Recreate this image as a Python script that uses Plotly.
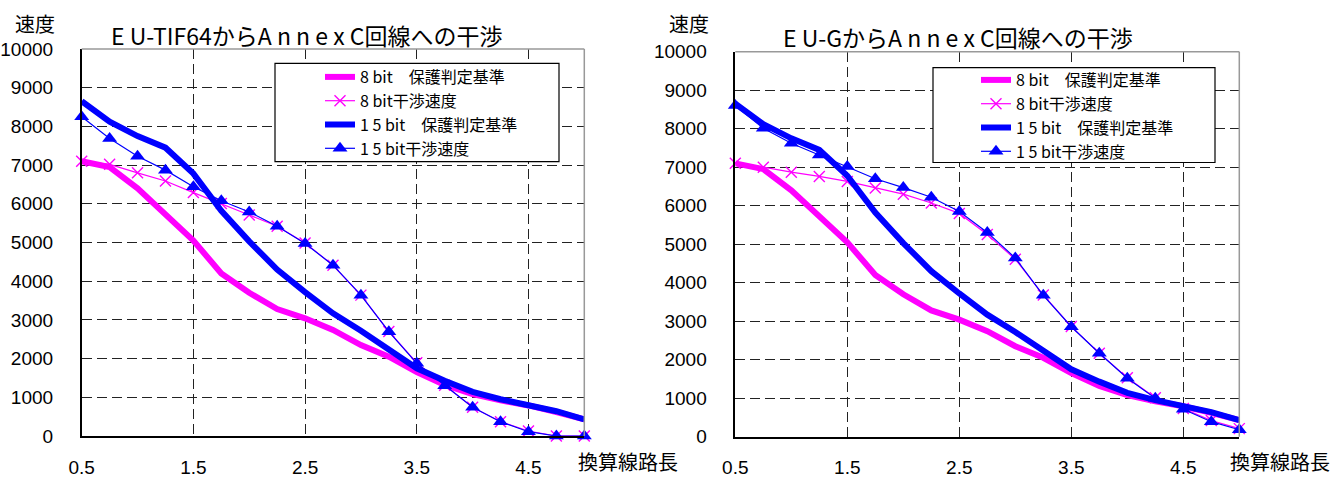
import plotly.graph_objects as go

# ---- data ----
line_len = [0.5, 0.75, 1.0, 1.25, 1.5, 1.75, 2.0, 2.25, 2.5, 2.75, 3.0,
            3.25, 3.5, 3.75, 4.0, 4.25, 4.5, 4.75, 5.0]

kijun_8bit = [7100, 6950, 6400, 5700, 5050, 4200, 3700, 3280, 3040, 2740, 2350,
              2050, 1650, 1320, 1080, 920, 790, 620, 430]
kijun_15bit = [8650, 8120, 7750, 7450, 6780, 5820, 5030, 4300, 3720, 3170, 2720,
               2250, 1750, 1430, 1140, 950, 800, 640, 430]

kansho_8bit_tif = [7100, 7020, 6800, 6590, 6290, 6010, 5710, 5420, 4990, 4410, 3640,
                   2700, 1890, 1310, 740, 370, 130, 0, 0]
kansho_15bit_tif = [8250, 7690, 7230, 6870, 6440, 6080, 5790, 5420, 4975, 4414, 3638,
                    2695, 1878, 1300, 741, 370, 111, 0, 0]

kansho_8bit_g = [7100, 7000, 6870, 6760, 6630, 6460, 6300, 6070, 5800, 5250, 4610,
                 3680, 2860, 2170, 1530, 1010, 730, 420, 210]
kansho_15bit_g = [8600, 8010, 7620, 7320, 7020, 6700, 6470, 6220, 5850, 5306, 4642,
                  3672, 2857, 2166, 1517, 997, 712, 390, 180]

titles = ["E U-TIF64からA n n e x C回線への干渉", "E U-GからA n n e x C回線への干渉"]
names = ["8 bit　保護判定基準", "8 bit干渉速度", "1 5 bit　保護判定基準", "1 5 bit干渉速度"]
x_ticks = [0.5, 1.5, 2.5, 3.5, 4.5]
y_ticks = [0, 1000, 2000, 3000, 4000, 5000, 6000, 7000, 8000, 9000, 10000]
x_label = "換算線路長"
y_label = "速度"

MAG = "#FF00FF"
BLU = "#0000FF"
CJK = "Noto Sans CJK JP"
LAT = "Liberation Sans"
W, H = 1333, 477

fig = go.Figure()

panels = [
    dict(xa="x", ya="y", lg="legend", k8=kansho_8bit_tif, k15=kansho_15bit_tif),
    dict(xa="x2", ya="y2", lg="legend2", k8=kansho_8bit_g, k15=kansho_15bit_g),
]
for p in panels:
    fig.add_trace(go.Scatter(x=line_len, y=kijun_8bit, name=names[0], mode="lines",
                             line=dict(color=MAG, width=6), xaxis=p["xa"], yaxis=p["ya"],
                             legend=p["lg"]))
    fig.add_trace(go.Scatter(x=line_len, y=p["k8"], name=names[1], mode="lines+markers",
                             line=dict(color=MAG, width=1.2),
                             marker=dict(symbol="x-thin", size=11, line=dict(color=MAG, width=1.4)),
                             cliponaxis=False, xaxis=p["xa"], yaxis=p["ya"], legend=p["lg"]))
    fig.add_trace(go.Scatter(x=line_len, y=kijun_15bit, name=names[2], mode="lines",
                             line=dict(color=BLU, width=6), xaxis=p["xa"], yaxis=p["ya"],
                             legend=p["lg"]))
    fig.add_trace(go.Scatter(x=line_len, y=p["k15"], name=names[3], mode="lines+markers",
                             line=dict(color=BLU, width=1.2),
                             marker=dict(symbol="triangle-up", size=13, color=BLU),
                             cliponaxis=False, xaxis=p["xa"], yaxis=p["ya"], legend=p["lg"]))

xdom = [[81.7 / W, 584.3 / W], [735.3 / W, 1239.3 / W]]
ydom = [[1 - 436 / H, 1 - 49 / H], [1 - 436.7 / H, 1 - 51.7 / H]]

axis_common_x = dict(range=[0.5, 5.0], tickvals=x_ticks, ticktext=[str(v) for v in x_ticks],
                     showgrid=True, gridcolor="#222222", griddash="10px,5px", gridwidth=1,
                     showline=True, linecolor="black", linewidth=1.5, zeroline=False,
                     ticks="", ticklabelstandoff=13, automargin=False,
                     tickfont=dict(family=LAT, size=19, color="black"))
axis_common_y = dict(range=[0, 10000], tickvals=y_ticks, ticktext=[str(v) for v in y_ticks],
                     showgrid=True, gridcolor="#222222", griddash="10px,5px", gridwidth=1,
                     showline=True, linecolor="black", linewidth=1.5, zeroline=False,
                     ticks="", ticklabelstandoff=23, automargin=False,
                     tickfont=dict(family=LAT, size=19, color="black"))

leg_common = dict(xanchor="left", yanchor="top", bgcolor="rgba(0,0,0,0)", borderwidth=0,
                  font=dict(family=CJK, size=16, color="black"), tracegroupgap=0,
                  itemwidth=30)
fig.update_layout(
    width=W, height=H, margin=dict(l=0, r=0, t=0, b=0),
    paper_bgcolor="white", plot_bgcolor="white",
    xaxis=dict(domain=xdom[0], anchor="y", **axis_common_x),
    yaxis=dict(domain=ydom[0], anchor="x", **axis_common_y),
    xaxis2=dict(domain=xdom[1], anchor="y2", **axis_common_x),
    yaxis2=dict(domain=ydom[1], anchor="x2", **axis_common_y),
    legend=dict(x=320 / W, y=1 - 60 / H, **leg_common),
    legend2=dict(x=976 / W, y=1 - 63 / H, **leg_common),
    showlegend=True,
)

# gray top/right borders of plot areas
for xa, ya in [("x", "y"), ("x2", "y2")]:
    fig.add_shape(type="line", xref=f"{xa} domain", yref=f"{ya} domain", x0=0, x1=1, y0=1, y1=1,
                  line=dict(color="#999999", width=1.5), layer="above")
    fig.add_shape(type="line", xref=f"{xa} domain", yref=f"{ya} domain", x0=1, x1=1, y0=0, y1=1,
                  line=dict(color="#999999", width=1.5), layer="above")

# legend frames
for (x0, x1, y0, y1) in [(275, 559, 63.3, 161.7), (933, 1215, 67.7, 162.5)]:
    fig.add_shape(type="rect", xref="paper", yref="paper", x0=x0 / W, x1=x1 / W,
                  y0=1 - y1 / H, y1=1 - y0 / H, fillcolor="white",
                  line=dict(color="black", width=1.2), layer="above")

# titles and axis labels
title_pos = [(306 / W, 1 - 35 / H), (957.5 / W, 1 - 37 / H)]
ylab_pos = [(34.5 / W, 1 - 23.5 / H), (688.5 / W, 1 - 24 / H)]
xlab_x = [627.5 / W, 1279.5 / W]
for i in range(2):
    fig.add_annotation(text=titles[i], x=title_pos[i][0], y=title_pos[i][1], xref="paper",
                       yref="paper", showarrow=False, xanchor="center", yanchor="middle",
                       font=dict(family=CJK, size=23, color="black"))
    fig.add_annotation(text=y_label, x=ylab_pos[i][0], y=ylab_pos[i][1], xref="paper",
                       yref="paper", showarrow=False, xanchor="center", yanchor="middle",
                       font=dict(family=CJK, size=20, color="black"))
    fig.add_annotation(text=x_label, x=xlab_x[i], y=0, xref="paper",
                       yref="paper", showarrow=False, xanchor="center", yanchor="bottom",
                       borderpad=0, font=dict(family=CJK, size=20, color="black"))

fig.write_html("out.html", config={"displayModeBar": False},
               post_script="document.body.style.margin='0px';")
